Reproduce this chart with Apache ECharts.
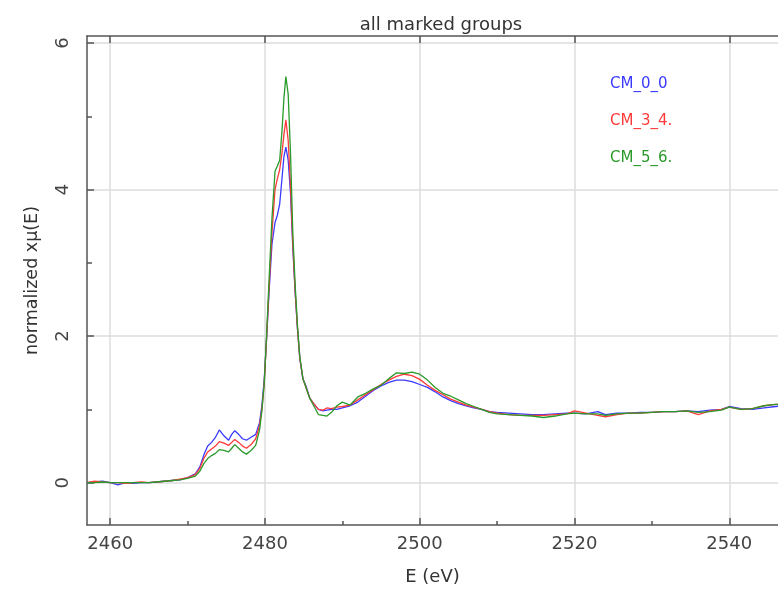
<!DOCTYPE html>
<html>
<head>
<meta charset="utf-8">
<script src="https://cdn.jsdelivr.net/npm/echarts@6/dist/echarts.min.js"></script>
<style>html,body{margin:0;padding:0;background:#fff}#c{width:778px;height:593px}</style>
</head>
<body>
<div id="c"></div>
<script>
const energy = [2457,2458,2459,2460,2461,2462,2463,2464,2465,2466,2467,2468,2469,2470,2471,2471.6,2472.1,2472.6,2473.1,2473.6,2474.1,2474.7,2475.3,2475.7,2476.1,2476.6,2477.1,2477.6,2478.2,2478.8,2479.3,2479.6,2479.9,2480.2,2480.5,2480.9,2481.3,2481.6,2481.9,2482.2,2482.45,2482.7,2483.0,2483.3,2483.6,2483.9,2484.2,2484.5,2484.9,2485.3,2485.8,2486.3,2486.9,2487.5,2488.0,2488.6,2489.3,2490,2491,2492,2493,2494,2495,2496,2497,2498,2499,2500,2501,2502,2503,2504,2505,2506,2507,2508,2509,2510,2511.5,2513,2514.5,2516,2517.5,2519,2520,2521.5,2523,2524,2525.5,2527,2528.5,2530,2531.5,2533,2534.5,2536,2537.5,2539,2540,2541.5,2543,2544.5,2546,2547];
const cm00 = [0.0,0.01,0.02,0.0,-0.03,0.0,-0.01,0.0,0.0,0.01,0.02,0.03,0.04,0.07,0.12,0.22,0.38,0.5,0.55,0.62,0.72,0.64,0.58,0.66,0.71,0.66,0.6,0.58,0.62,0.66,0.82,1.05,1.4,1.95,2.55,3.25,3.55,3.65,3.8,4.15,4.45,4.58,4.4,3.95,3.2,2.6,2.1,1.7,1.42,1.32,1.15,1.08,1.0,0.98,0.99,1.0,1.0,1.02,1.05,1.1,1.18,1.26,1.32,1.37,1.4,1.4,1.38,1.34,1.3,1.24,1.17,1.12,1.08,1.05,1.02,1.0,0.97,0.96,0.95,0.94,0.93,0.93,0.94,0.95,0.95,0.94,0.97,0.93,0.95,0.95,0.96,0.96,0.97,0.97,0.98,0.97,0.99,1.0,1.04,1.01,1.0,1.02,1.04,1.05];
const cm34 = [0.0,0.02,0.01,0.0,0.0,-0.01,0.0,0.01,0.0,0.01,0.02,0.03,0.05,0.07,0.11,0.2,0.33,0.42,0.46,0.5,0.56,0.54,0.51,0.55,0.59,0.55,0.5,0.47,0.52,0.6,0.78,1.0,1.35,1.95,2.6,3.4,4.0,4.15,4.27,4.5,4.75,4.95,4.67,4.05,3.25,2.62,2.1,1.7,1.42,1.3,1.15,1.08,1.0,0.99,1.02,1.01,1.03,1.04,1.06,1.13,1.2,1.27,1.34,1.4,1.45,1.48,1.46,1.41,1.33,1.26,1.2,1.14,1.1,1.06,1.03,1.0,0.97,0.95,0.93,0.92,0.92,0.92,0.93,0.94,0.98,0.95,0.92,0.9,0.93,0.95,0.95,0.96,0.97,0.97,0.98,0.93,0.98,1.0,1.03,1.0,1.01,1.05,1.07,1.07];
const cm56 = [0.0,0.0,0.01,0.0,0.0,0.0,0.0,0.0,0.0,0.01,0.02,0.03,0.04,0.06,0.09,0.16,0.26,0.33,0.37,0.4,0.45,0.44,0.42,0.47,0.52,0.47,0.42,0.39,0.44,0.51,0.72,0.98,1.35,2.0,2.7,3.6,4.25,4.32,4.4,4.8,5.25,5.54,5.3,4.5,3.4,2.7,2.15,1.72,1.42,1.3,1.15,1.05,0.93,0.92,0.91,0.96,1.05,1.1,1.06,1.17,1.22,1.28,1.33,1.42,1.5,1.49,1.51,1.48,1.4,1.3,1.22,1.18,1.13,1.08,1.04,1.0,0.96,0.94,0.93,0.92,0.91,0.89,0.91,0.94,0.95,0.94,0.94,0.92,0.94,0.95,0.95,0.96,0.97,0.97,0.98,0.96,0.97,0.99,1.03,1.0,1.01,1.05,1.07,1.07];
const seriesNames = ['CM_0_0', 'CM_3_4.', 'CM_5_6.'];
const xMajorTicks = [2460, 2480, 2500, 2520, 2540];
const xMinorTicks = [2470, 2490, 2510, 2530];
const yMajorTicks = [0, 2, 4, 6];
const yMinorTicks = [1, 3, 5];

const colors = ['#3a3aff', '#ff3a3a', '#2a9a2a'];
const X_MIN = 2457.0, X_MAX = 2546.3, Y_MIN = -0.577, Y_MAX = 6.095;
const FONT = 'DejaVu Sans';
const axisColor = '#555';

function pairs(vals) { return energy.map((e, i) => [e, vals[i]]); }

const chart = echarts.init(document.getElementById('c'), null, {renderer: 'canvas'});
const baseX = {
  type: 'value', min: X_MIN, max: X_MAX, splitNumber: 4,
  axisLine: {show: true, onZero: false, lineStyle: {color: axisColor, width: 1.5}},
  axisTick: {show: true, inside: true, length: 7, lineStyle: {color: axisColor, width: 1.5}, customValues: xMajorTicks},
  splitLine: {show: false},
  axisLabel: {show: false}
};
const baseY = {
  type: 'value', min: Y_MIN, max: Y_MAX, splitNumber: 3,
  axisLine: {show: true, onZero: false, lineStyle: {color: axisColor, width: 1.5}},
  axisTick: {show: true, inside: true, length: 7, lineStyle: {color: axisColor, width: 1.5}, customValues: yMajorTicks},
  splitLine: {show: false},
  axisLabel: {show: false}
};

chart.setOption({
  animation: false,
  backgroundColor: '#fff',
  title: {
    text: 'all marked groups', left: 436, top: 11, textAlign: 'center',
    textStyle: {fontFamily: FONT, fontSize: 18, fontWeight: 'normal', color: '#333'}
  },
  legend: {
    orient: 'vertical', left: 600, top: 72, itemGap: 22, itemWidth: 0, itemHeight: 14, icon: 'rect',
    selectedMode: false,
    data: seriesNames.map((n, i) => ({name: n, textStyle: {color: colors[i]}})),
    textStyle: {fontFamily: FONT, fontSize: 15, padding: 0}
  },
  grid: {left: 87, right: 0, top: 36, bottom: 68, containLabel: false},
  xAxis: [
    Object.assign({}, baseX, {
      position: 'bottom',
      name: 'E (eV)', nameLocation: 'middle', nameGap: 43,
      nameTextStyle: {fontFamily: FONT, fontSize: 18, color: '#333'},
      splitLine: {show: true, lineStyle: {color: '#dcdcdc', width: 1.5}},
      axisLabel: {show: true, margin: 10, fontFamily: FONT, fontSize: 18, color: '#444', customValues: xMajorTicks,
        formatter: v => String(Math.round(v))}
    }),
    Object.assign({}, baseX, {position: 'top'}),
    Object.assign({}, baseX, {position: 'bottom', axisLine: {show: false, onZero: false},
      axisTick: {show: true, inside: true, length: 4, lineStyle: {color: axisColor, width: 1.5}, customValues: xMinorTicks}})
  ],
  yAxis: [
    Object.assign({}, baseY, {
      position: 'left',
      name: 'normalized x\u03bc(E)', nameLocation: 'middle', nameGap: 46,
      nameTextStyle: {fontFamily: FONT, fontSize: 17.5, color: '#333'},
      splitLine: {show: true, lineStyle: {color: '#dcdcdc', width: 1.5}},
      axisLabel: {show: true, margin: 15, rotate: 90, fontFamily: FONT, fontSize: 18, color: '#444', customValues: yMajorTicks,
        formatter: v => String(Math.round(v))}
    }),
    Object.assign({}, baseY, {position: 'left', axisLine: {show: false, onZero: false},
      axisTick: {show: true, inside: true, length: 5, lineStyle: {color: axisColor, width: 1.5}, customValues: yMinorTicks}})
  ],
  series: [cm00, cm34, cm56].map((vals, i) => ({
    name: seriesNames[i], type: 'line', xAxisIndex: 0, yAxisIndex: 0,
    data: pairs(vals), showSymbol: false, symbol: 'none',
    lineStyle: {color: colors[i], width: 1.3}, itemStyle: {color: colors[i]}
  }))
});
</script>
</body>
</html>
